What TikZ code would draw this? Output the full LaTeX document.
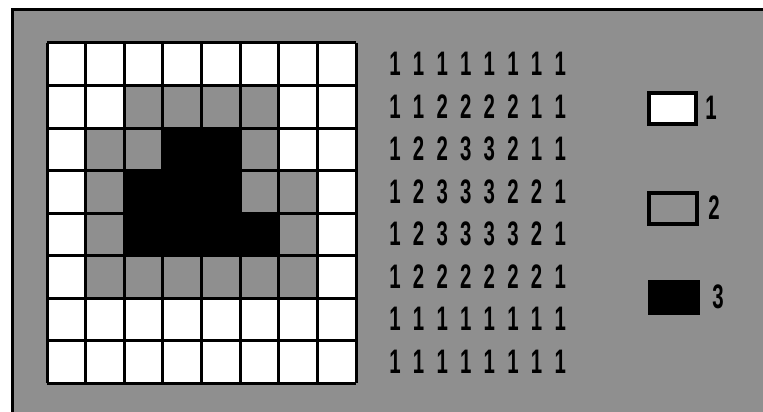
\documentclass[tikz,border=0pt]{standalone}
\usepackage{fontspec}
\setmainfont{Liberation Sans}
\definecolor{dith}{gray}{0.56}
\newcommand{\narrowdig}[1]{\scalebox{0.6}[1]{\fontsize{34}{34}\selectfont\bfseries #1}}
\begin{document}
\begin{tikzpicture}[x=1pt,y=-1pt,
  cellW/.style={fill=white},
  cellG/.style={fill=dith},
  cellB/.style={fill=black},
  digit/.style={inner sep=0pt, anchor=center},
  legbox/.style={line width=4pt, draw=black},
  leglab/.style={inner sep=0pt, anchor=center}]
\useasboundingbox (0,0) rectangle (763,412);
\fill[white] (0,0) rectangle (763,412);
% background panel
\fill[dith] (12,10) rectangle (763,412);
\draw[line width=3pt] (12,412) -- (12,10) -- (763,10);
% grid cells
\def\cw{38.625}
\def\ch{42.5}
\foreach \row/\vals in {0/{1,1,1,1,1,1,1,1},1/{1,1,2,2,2,2,1,1},2/{1,2,2,3,3,2,1,1},3/{1,2,3,3,3,2,2,1},4/{1,2,3,3,3,3,2,1},5/{1,2,2,2,2,2,2,1},6/{1,1,1,1,1,1,1,1},7/{1,1,1,1,1,1,1,1}}{
  \foreach \v [count=\c from 0] in \vals {
    \ifnum\v=1 \def\sty{cellW}\fi
    \ifnum\v=2 \def\sty{cellG}\fi
    \ifnum\v=3 \def\sty{cellB}\fi
    \fill[\sty] ({47+\c*\cw},{43+\row*\ch}) rectangle ++(\cw,\ch);
    \node[digit] (d\row\c) at ({395+\c*23.6},{64+\row*\ch}) {\narrowdig{\v}};
  }
}
\foreach \i in {0,...,8}{
  \draw[line width=3pt] ({47+\i*\cw},43) -- ({47+\i*\cw},383);
  \draw[line width=3pt] (47,{43+\i*\ch}) -- (356,{43+\i*\ch});
}
% legend
\draw[legbox, fill=white] (649,93) rectangle (696,124);
\node[leglab] (l1) at (711,108) {\narrowdig{1}};
\draw[legbox, fill=dith] (649,193) rectangle (697,224);
\node[leglab] (l2) at (714,208) {\narrowdig{2}};
\fill[black] (648,280) rectangle (700,315);
\node[leglab] (l3) at (718,297) {\narrowdig{3}};
\end{tikzpicture}
\end{document}
